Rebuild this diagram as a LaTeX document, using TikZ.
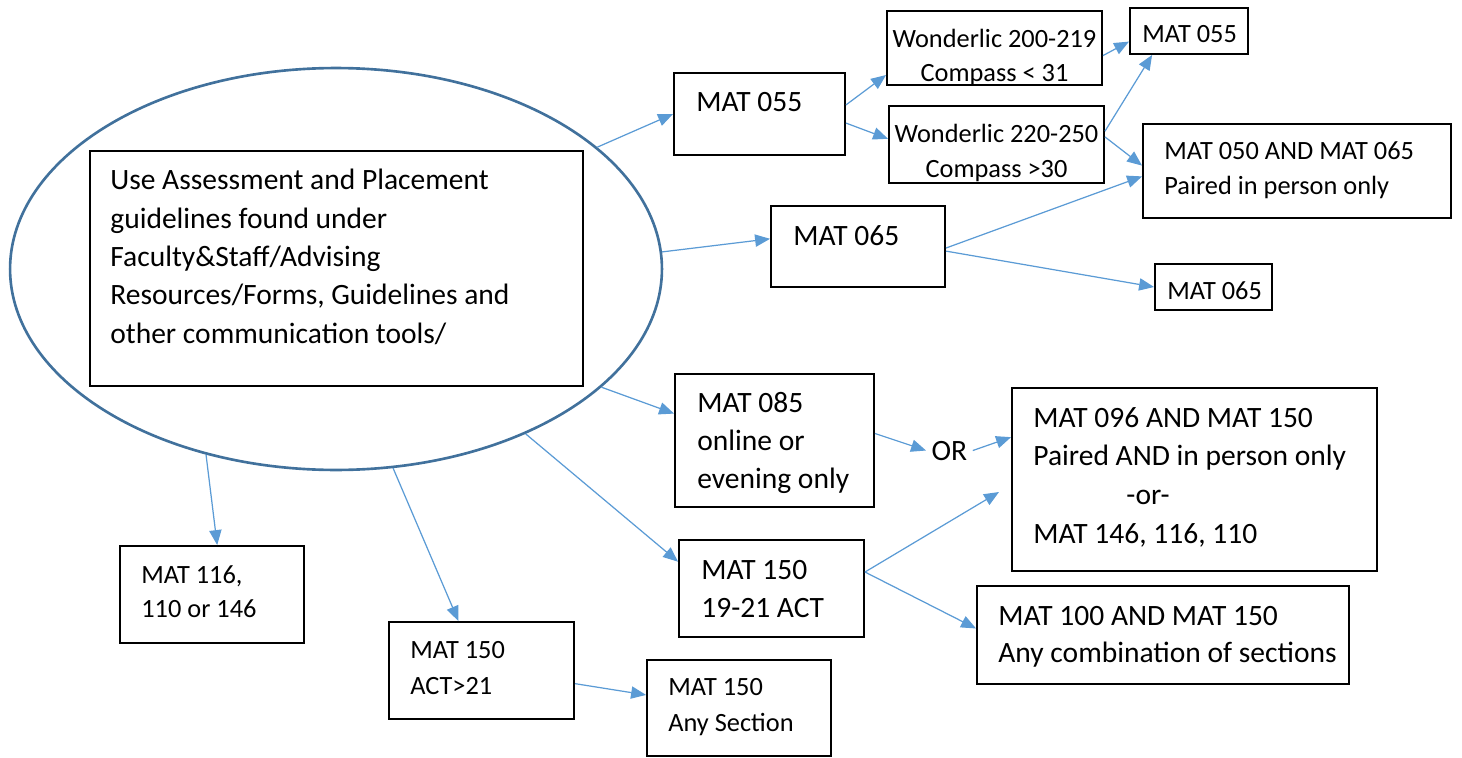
\documentclass[tikz,border=0pt]{standalone}
\usepackage{fontspec}
\setmainfont{Carlito}
\usetikzlibrary{arrows.meta, fit, shapes.geometric}
\definecolor{linkblue}{HTML}{5B9BD5}
\definecolor{ringblue}{HTML}{41719C}
\tikzset{
	box/.style = {draw = black, line width = 1.1pt, inner sep = 0pt},
	txt/.style = {anchor = base west, align = left, inner sep = 0pt, font = \fontsize{15}{20}\selectfont},
	bigtxt/.style = {txt, font = \fontsize{16.8}{21.6}\selectfont},
	link/.style = {draw = linkblue, line width = .7pt, -{Triangle[length = 8.5pt, width = 7pt]}}
}
\begin{document}
\begin{tikzpicture}[x = .02cm, y = -.02cm]
	\useasboundingbox (0,0) rectangle (1462,757);
	% guidelines ellipse (text nodes sit on their last baseline)
	\node[ellipse, draw = ringblue, line width = 1.5pt, inner sep = 0pt, minimum width = 13.04cm, minimum height = 8.04cm] (ring) at (336,269) {};
	\node[box, fit = {(90,151) (583,386)}] (guide) {};
	\node[bigtxt, font = \fontsize{16.8}{21.8}\selectfont] (guidet) at (110,343) {Use Assessment and Placement\\guidelines found under\\Faculty\&Staff/Advising\\Resources/Forms, Guidelines and\\other communication tools/};
	% upper branch
	\node[box, fit = {(674,73) (845,155)}] (m055) {};
	\node[bigtxt] (m055t) at (696,112) {MAT 055};
	\node[box, fit = {(887,11) (1102,85)}] (wlo) {};
	\node[txt, anchor = base, align = center, font = \fontsize{15}{19.8}\selectfont] (wlot) at (994.5,82) {Wonderlic 200-219\\Compass < 31};
	\node[box, fit = {(889,106) (1104,183)}] (whi) {};
	\node[txt, anchor = base, align = center, font = \fontsize{15}{19.8}\selectfont] (whit) at (996.5,177) {Wonderlic 220-250\\Compass >30};
	\node[box, fit = {(1130,8) (1248,54)}] (s055) {};
	\node[txt] (s055t) at (1142,43) {MAT 055};
	\node[box, fit = {(1143,124) (1451,218)}] (pair) {};
	\node[txt, font = \fontsize{15}{19.8}\selectfont] (pairt) at (1164,194) {MAT 050 AND MAT 065\\Paired in person only};
	\node[box, fit = {(771,206) (945,287)}] (m065) {};
	\node[bigtxt] (m065t) at (793,245) {MAT 065};
	\node[box, fit = {(1155,264) (1272,310)}] (s065) {};
	\node[txt] (s065t) at (1167,299) {MAT 065};
	% middle branch
	\node[box, fit = {(675,374) (874,507)}] (m085) {};
	\node[bigtxt] (m085t) at (697,488) {MAT 085\\online or\\evening only};
	\node[bigtxt, inner xsep = 3pt] (or) at (926,460) {OR};
	\node[box, fit = {(1012,388) (1377,571)}] (m096) {};
	\node[bigtxt, font = \fontsize{16.8}{22}\selectfont] (m096t) at (1033,543) {MAT 096 AND MAT 150\\Paired AND in person only\\\hspace*{53pt}-or-\\MAT 146, 116, 110};
	\node[box, fit = {(679,540) (864,637)}] (m150) {};
	\node[bigtxt] (m150t) at (701,617) {MAT 150\\19-21 ACT};
	\node[box, fit = {(977,586) (1349,684)}] (m100) {};
	\node[bigtxt, font = \fontsize{16.8}{21}\selectfont] (m100t) at (998,662) {MAT 100 AND MAT 150\\Any combination of sections};
	\coordinate (gap) at (999,492); % arrow stops short of the box
	% lower branch
	\node[box, fit = {(120,546) (304,643)}] (m116) {};
	\node[txt, font = \fontsize{15}{19.3}\selectfont] (m116t) at (141,617) {MAT 116,\\110 or 146};
	\node[box, fit = {(389,622) (574,719)}] (act) {};
	\node[txt, font = \fontsize{15}{20.4}\selectfont] (actt) at (410,694) {MAT 150\\ACT>21};
	\node[box, fit = {(647,660) (831,756)}] (any) {};
	\node[txt, font = \fontsize{15}{20.4}\selectfont] (anyt) at (668,731) {MAT 150\\Any Section};
	% connectors
	\draw[link] (ring.25.6) -- (m055.west);
	\draw[link] (ring.3.3) -- (m065.175.7);
	\draw[link] (ring.-24.4) -- (m085.165.6);
	\draw[link] (ring.-41.7) -- (m150.164.6);
	\draw[link] (ring.235.9) -- (m116.84.1);
	\draw[link] (ring.-74.9) -- (act.115.8);
	\draw[link] (act.-8.9) -- (any.172.6);
	\draw[link] (m055.6.7) -- (wlo.194.6);
	\draw[link] (m055.-6) -- (whi.177.1);
	\draw[link] (wlo.-4.8) -- (s055.190.6);
	\draw[link] (whi.7.2) -- (s055.213.3);
	\draw[link] (whi.4.5) -- (pair.178.1);
	\draw[link] (m065.-1) -- (pair.182.2);
	\draw[link] (m065.-3) -- (s065.west);
	\draw[link] (m085.4.3) -- (or.west);
	\draw[link] (or.east) -- (m096.167.5);
	\draw[link] (m150.10.7) -- (gap);
	\draw[link] (m150.10.7) -- (m100.178.8);
\end{tikzpicture}
\end{document}
